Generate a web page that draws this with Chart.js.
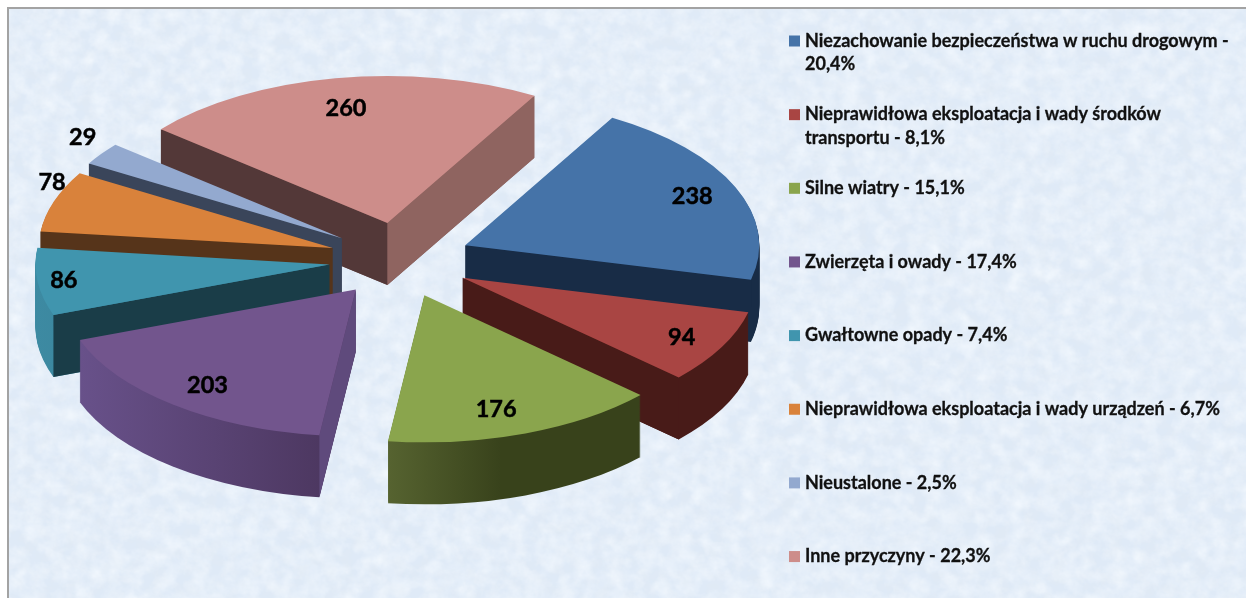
<!DOCTYPE html>
<html lang="pl">
<head>
<meta charset="utf-8">
<title>Przyczyny</title>
<script src="https://cdn.jsdelivr.net/npm/chart.js@4"></script>
<style>
html,body{margin:0;padding:0;background:#fff;width:1246px;height:598px;overflow:hidden}
#frame{position:absolute;left:7px;top:7px;width:1260px;height:610px;border:2px solid #a3a3a3;background:#dfeaf7;overflow:hidden}
#tex{position:absolute;left:0;top:0;width:1260px;height:610px}
canvas{position:absolute;left:0;top:0}
</style>
</head>
<body>
<div id="frame">
<svg id="tex" xmlns="http://www.w3.org/2000/svg">
<filter id="mottle" x="0" y="0" width="100%" height="100%">
<feTurbulence type="fractalNoise" baseFrequency="0.07 0.08" numOctaves="4" seed="7"/>
<feColorMatrix type="matrix" values="0 0 0 0 0.76  0 0 0 0 0.82  0 0 0 0 0.89  0.8 0.7 0 0 -0.62"/>
</filter>
<filter id="glow" x="0" y="0" width="100%" height="100%">
<feTurbulence type="fractalNoise" baseFrequency="0.06 0.07" numOctaves="4" seed="21"/>
<feColorMatrix type="matrix" values="0 0 0 0 0.92  0 0 0 0 0.96  0 0 0 0 1  0.9 0 0.8 0 -0.62"/>
</filter>
<rect width="100%" height="100%" filter="url(#mottle)"/>
<rect width="100%" height="100%" filter="url(#glow)"/>
</svg>
</div>
<canvas id="chart" width="1246" height="598"></canvas>
<script>
const categories = [
  'Niezachowanie bezpieczeństwa w ruchu drogowym - 20,4%',
  'Nieprawidłowa eksploatacja i wady środków transportu - 8,1%',
  'Silne wiatry - 15,1%',
  'Zwierzęta i owady - 17,4%',
  'Gwałtowne opady - 7,4%',
  'Nieprawidłowa eksploatacja i wady urządzeń - 6,7%',
  'Nieustalone - 2,5%',
  'Inne przyczyny - 22,3%'
];
const values = [238, 94, 176, 203, 86, 78, 29, 260];

const topColors   = ['#4573a8','#a94543','#8aa54d','#72558d','#4095ae','#d9823b','#93a9cf','#cd8d8a'];
const wallLeft    = ['#182c46','#481b18','#566330','#68518a','#3d8aa2','#56341a','#3a455a','#533838'];
const wallRight   = ['#182c46','#481b18','#38421b','#49345b','#337489','#56341a','#3a455a','#8f6460'];
const faceStart   = ['#182c46','#481b18','#38421b','#5f4a7c','#1a3d48','#56341a','#3a455a','#533838'];
const faceEnd     = ['#182c46','#481b18','#38421b','#5f4a7c','#1a3d48','#56341a','#3a455a','#8f6460'];
const labelReachX = [0.84, 0.845, 0.71, 0.81, 0.91, 1.007, 1.078, 0.795];
const labelReachY = [0.84, 0.867, 0.824, 0.835, 0.90, 1.40, 1.20, 0.79];

const SQUASH = 0.5, EXPLODE = 71, EXPLODE_TILT = 0.53, DEPTH = 62, FONT = 'Lato, "Open Sans", sans-serif';

const pie3d = {
  id: 'pie3d',
  beforeDatasetsDraw(chart) {
    const ctx = chart.ctx;
    const arcs = chart.getDatasetMeta(0).data;
    const tip = arc => {
      const m = (arc.startAngle + arc.endAngle) / 2;
      return { x: arc.x + Math.cos(m) * EXPLODE, y: arc.y + Math.sin(m) * EXPLODE * EXPLODE_TILT, m };
    };
    const order = arcs.map((a, i) => i).sort((p, q) => tip(arcs[p]).y - tip(arcs[q]).y);

    order.forEach(i => {
      const arc = arcs[i], t = tip(arc), r = arc.outerRadius;
      const a0 = arc.startAngle, a1 = arc.endAngle;

      // horizontal extent of the slice, for the wall shading
      const xs = [0, Math.cos(a0) * r, Math.cos(a1) * r];
      for (let k = -4; k <= 4; k++) {
        const q = k * Math.PI;
        if (q > a0 && q < a1) xs.push(Math.cos(q) * r);
      }
      const lo = Math.min(...xs), hi = Math.max(...xs);
      const shade = ctx.createLinearGradient(t.x + lo, 0, t.x + hi, 0);
      shade.addColorStop(0, wallLeft[i]);
      if (i === 2) shade.addColorStop(0.45, wallRight[i]);
      shade.addColorStop(1, wallRight[i]);

      // outer wall: the sector swept down through the depth
      ctx.fillStyle = shade;
      for (let d = DEPTH; d >= 1; d--) {
        ctx.save();
        ctx.transform(1, 0, 0, SQUASH, t.x, t.y + d);
        ctx.beginPath();
        ctx.moveTo(0, 0);
        ctx.arc(0, 0, r, a0, a1);
        ctx.closePath();
        ctx.restore();
        ctx.fill();
      }

      // straight cut faces that look toward the viewer
      const face = (ang, color) => {
        const ex = t.x + Math.cos(ang) * r, ey = t.y + Math.sin(ang) * r * SQUASH;
        ctx.beginPath();
        ctx.moveTo(t.x, t.y);
        ctx.lineTo(ex, ey);
        ctx.lineTo(ex, ey + DEPTH);
        ctx.lineTo(t.x, t.y + DEPTH);
        ctx.closePath();
        ctx.fillStyle = color;
        ctx.fill();
      };
      if (Math.cos(a0) < 0) face(a0, faceStart[i]);
      if (Math.cos(a1) > 0) face(a1, faceEnd[i]);

      // top surface: Chart.js' own arc element under the tilt
      ctx.save();
      ctx.translate(t.x, t.y);
      ctx.scale(1, SQUASH);
      ctx.translate(-arc.x, -arc.y);
      arc.draw(ctx);
      ctx.restore();
    });

    // value labels
    ctx.save();
    ctx.font = 'bold 23.5px ' + FONT;
    ctx.fillStyle = '#000';
    ctx.strokeStyle = '#000';
    ctx.lineWidth = 0.5;
    ctx.textAlign = 'center';
    ctx.textBaseline = 'middle';
    arcs.forEach((arc, i) => {
      const t = tip(arc), r = arc.outerRadius;
      const x = t.x + Math.cos(t.m) * r * labelReachX[i];
      const y = t.y + Math.sin(t.m) * r * SQUASH * labelReachY[i];
      ctx.fillText(String(values[i]), x, y);
      ctx.strokeText(String(values[i]), x, y);
    });
    ctx.restore();
    return false;
  },
  afterDraw(chart) {
    const ctx = chart.ctx;
    const left = 789, box = 11, textX = 805, first = 41, step = 73.65, lh = 23.5, maxW = 432;
    ctx.save();
    ctx.font = 'bold 18px ' + FONT;
    ctx.textBaseline = 'middle';
    ctx.textAlign = 'left';
    ctx.lineWidth = 0.3;
    ctx.strokeStyle = '#111';
    const put = (s, y) => { ctx.fillText(s, textX, y); ctx.strokeText(s, textX, y); };
    categories.forEach((c, i) => {
      const y = first + step * i;
      ctx.fillStyle = topColors[i];
      ctx.fillRect(left, y - box / 2, box, box);
      ctx.fillStyle = '#111';
      let line = '', ly = y;
      c.split(' ').forEach(w => {
        const test = line ? line + ' ' + w : w;
        if (ctx.measureText(test).width > maxW && line) {
          put(line, ly);
          ly += lh;
          line = w;
        } else line = test;
      });
      put(line, ly);
    });
    ctx.restore();
  }
};

new Chart(document.getElementById('chart'), {
  type: 'pie',
  plugins: [pie3d],
  data: {
    labels: categories,
    datasets: [{ data: values, backgroundColor: topColors, borderWidth: 0 }]
  },
  options: {
    responsive: false,
    animation: false,
    rotation: 30,
    radius: 294,
    layout: { padding: { left: 0, right: 446, top: 0, bottom: 78 } },
    plugins: { legend: { display: false }, tooltip: { enabled: false }, title: { display: false } }
  }
});
</script>
</body>
</html>
